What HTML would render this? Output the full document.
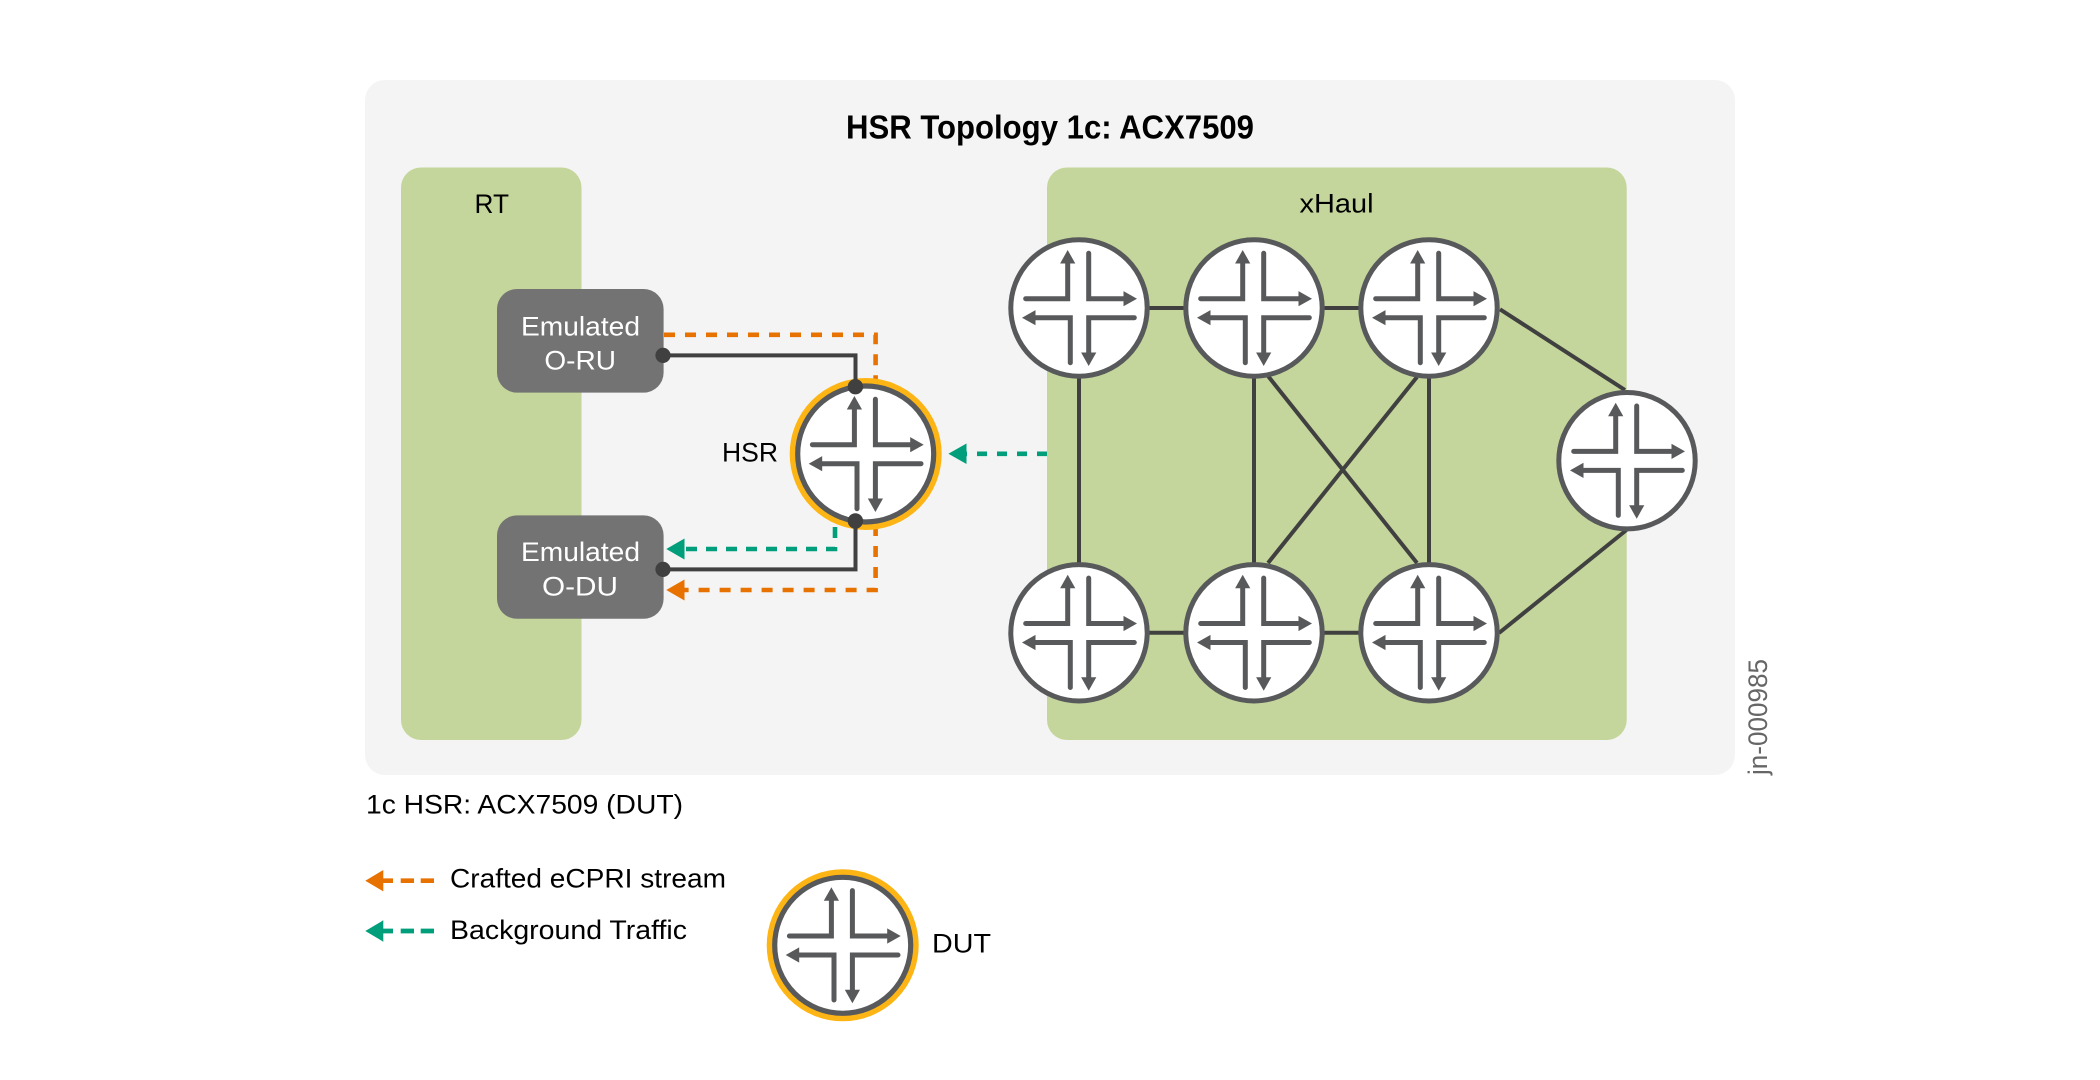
<!DOCTYPE html>
<html>
<head>
<meta charset="utf-8">
<style>
html,body{margin:0;padding:0;background:#fff}
svg{display:block}
text{font-family:"Liberation Sans",sans-serif;fill:#000}
</style>
</head>
<body>
<svg width="2100" height="1080" viewBox="0 0 2100 1080" xmlns="http://www.w3.org/2000/svg">
<defs>
<g id="icon" fill="none" stroke="#58595b" stroke-width="5" stroke-linecap="round" stroke-linejoin="miter">
  <path d="M-53.3-9.3H-11.3V-45"/>
  <path d="M9.7-54.7V-9.3H46"/>
  <path d="M-44 9.7H-8.7V54.7"/>
  <path d="M55.3 9.7H9.7V45"/>
  <path d="M-11.3-58L-18.9-44.5H-3.7Z" fill="#58595b" stroke="none"/>
  <path d="M58-9.3L44.5-16.9V-1.7Z" fill="#58595b" stroke="none"/>
  <path d="M-57 9.7L-43.5 2.1V17.3Z" fill="#58595b" stroke="none"/>
  <path d="M9.7 58L2.1 44.5H17.3Z" fill="#58595b" stroke="none"/>
</g>
<g id="router">
  <circle r="68.2" fill="#fff" stroke="#58595b" stroke-width="5"/>
  <use href="#icon"/>
</g>
<g id="dut">
  <circle r="73" fill="none" stroke="#fdb515" stroke-width="6"/>
  <circle r="68" fill="#fff" stroke="#58595b" stroke-width="5.2"/>
  <use href="#icon"/>
</g>
</defs>

<!-- panels -->
<rect x="365" y="80" width="1370" height="695" rx="20" fill="#f4f4f4"/>
<rect x="401" y="167.5" width="180.5" height="572.5" rx="20" fill="#c4d69b"/>
<rect x="1047" y="167.5" width="579.7" height="572.5" rx="20" fill="#c4d69b"/>

<text x="846" y="138.3" font-size="33" font-weight="700" textLength="408" lengthAdjust="spacingAndGlyphs">HSR Topology 1c: ACX7509</text>
<text x="474.5" y="212.8" font-size="27" textLength="34.5" lengthAdjust="spacingAndGlyphs">RT</text>
<text x="1299.5" y="212.4" font-size="27" textLength="74" lengthAdjust="spacingAndGlyphs">xHaul</text>

<!-- boxes -->
<rect x="497" y="289" width="166.6" height="103.6" rx="20" fill="#737373"/>
<rect x="497" y="515.4" width="166.6" height="103.4" rx="20" fill="#737373"/>
<text x="521" y="335.3" font-size="27" style="fill:#fff" textLength="119" lengthAdjust="spacingAndGlyphs">Emulated</text>
<text x="544.4" y="369.4" font-size="27" style="fill:#fff" textLength="71.6" lengthAdjust="spacingAndGlyphs">O-RU</text>
<text x="521" y="561" font-size="27" style="fill:#fff" textLength="119" lengthAdjust="spacingAndGlyphs">Emulated</text>
<text x="542" y="595.5" font-size="27" style="fill:#fff" textLength="76" lengthAdjust="spacingAndGlyphs">O-DU</text>

<!-- dashed flows -->
<g fill="none" stroke-width="4.6">
  <path d="M664 334.8H875.6V385" stroke="#e87200" stroke-dasharray="11 10"/>
  <path d="M875.6 525V590H684" stroke="#e87200" stroke-dasharray="11 10"/>
  <path d="M835 527V549H684" stroke="#009e7a" stroke-dasharray="11 9"/>
  <path d="M1047 453.8H966" stroke="#009e7a" stroke-dasharray="10 10"/>
</g>
<path d="M666.3 590L684.5 579.5V600.5Z" fill="#e87200"/>
<path d="M666.3 549L684.5 538.5V559.5Z" fill="#009e7a"/>
<path d="M948.4 453.8L966.5 443.5V464Z" fill="#009e7a"/>

<!-- xHaul links -->
<g fill="none" stroke="#404041" stroke-width="4">
  <path d="M1079 376V565"/>
  <path d="M1254 376V565"/>
  <path d="M1429 376V565"/>
  <path d="M1268 376L1417 563"/>
  <path d="M1417 377L1268 563"/>
  <path d="M1147 308H1186"/>
  <path d="M1322 308H1361"/>
  <path d="M1147 632.8H1186"/>
  <path d="M1322 632.8H1361"/>
  <path d="M1500 309.3L1625 390"/>
  <path d="M1499 633L1626.5 530"/>
</g>

<!-- routers -->
<use href="#router" x="1079" y="308"/>
<use href="#router" x="1254" y="308"/>
<use href="#router" x="1429" y="308"/>
<use href="#router" x="1079" y="632.8"/>
<use href="#router" x="1254" y="632.8"/>
<use href="#router" x="1429" y="632.8"/>
<use href="#router" x="1627" y="460.7"/>

<!-- HSR -->
<use href="#dut" x="865.7" y="454"/>
<text x="722" y="461.6" font-size="27" textLength="56" lengthAdjust="spacingAndGlyphs">HSR</text>

<!-- solid connectors -->
<g fill="none" stroke="#404041" stroke-width="4">
  <path d="M663 355.4H855.5V386.5"/>
  <path d="M663 569.4H855.5V521"/>
</g>
<g fill="#404041">
  <circle cx="663" cy="355.4" r="7.6"/>
  <circle cx="663" cy="569.4" r="7.6"/>
  <circle cx="855.4" cy="386.7" r="7.7"/>
  <circle cx="855.4" cy="521" r="7.7"/>
</g>

<!-- vertical id -->
<text transform="translate(1767 775) rotate(-90)" font-size="27" style="fill:#666" textLength="116" lengthAdjust="spacingAndGlyphs">jn-000985</text>

<!-- caption + legend -->
<text x="366" y="813.3" font-size="27" textLength="317" lengthAdjust="spacingAndGlyphs">1c HSR: ACX7509 (DUT)</text>

<path d="M365.3 880.7L383.3 870V891.4Z" fill="#e87200"/>
<path d="M382 880.7H393M400.7 880.7H414M420.7 880.7H434" stroke="#e87200" stroke-width="4.7" fill="none"/>
<text x="450" y="887.3" font-size="27" textLength="276" lengthAdjust="spacingAndGlyphs">Crafted eCPRI stream</text>

<path d="M365.3 931L383.3 920.3V941.7Z" fill="#009e7a"/>
<path d="M382 931H393M400.7 931H414M420.7 931H434" stroke="#009e7a" stroke-width="4.7" fill="none"/>
<text x="450" y="939" font-size="27" textLength="237" lengthAdjust="spacingAndGlyphs">Background Traffic</text>

<use href="#dut" x="842.7" y="945.3"/>
<text x="932" y="952.3" font-size="27" textLength="59" lengthAdjust="spacingAndGlyphs">DUT</text>
</svg>
</body>
</html>
